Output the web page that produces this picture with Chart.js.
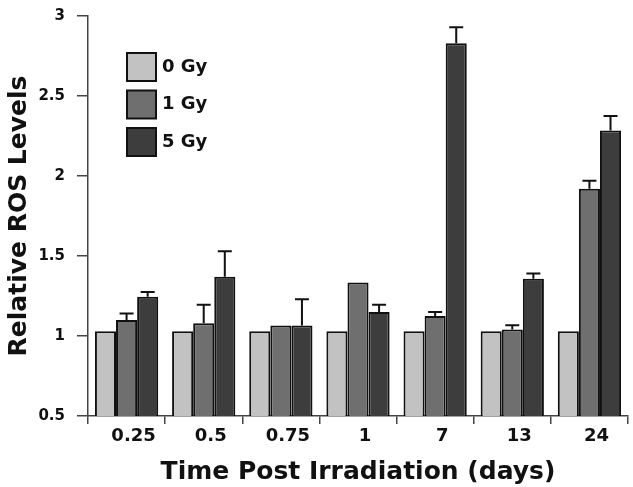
<!DOCTYPE html>
<html>
<head>
<meta charset="utf-8">
<script src="https://cdn.jsdelivr.net/npm/chart.js@4"></script>
<style>
  body { margin: 0; background: #fff; }
  #wrap { width: 633px; height: 487px; }
</style>
</head>
<body>
<div id="wrap"><canvas id="c"></canvas></div>
<script>
const labels = ['0.25', '0.5', '0.75', '1', '7', '13', '24'];
const gy0 = [1.03, 1.03, 1.03, 1.03, 1.03, 1.03, 1.03];
const gy1 = [1.10, 1.08, 1.065, 1.335, 1.125, 1.04, 1.92];
const gy5 = [1.245, 1.37, 1.065, 1.15, 2.83, 1.358, 2.285];
const err0 = [0, 0, 0, 0, 0, 0, 0];
const err1 = [0.04, 0.115, 0, 0, 0.025, 0.027, 0.05];
const err5 = [0.03, 0.16, 0.165, 0.045, 0.10, 0.032, 0.09];

const FONT = '"DejaVu Sans", Arial, sans-serif';

// error bars above each bar, drawn from the bar's own scale
const errorBars = {
  id: 'errorBars',
  afterDatasetsDraw(chart) {
    const ctx = chart.ctx;
    const yScale = chart.scales.y;
    chart.data.datasets.forEach((ds, i) => {
      const meta = chart.getDatasetMeta(i);
      meta.data.forEach((bar, j) => {
        const e = ds.errors[j];
        if (!e) return;
        const yTop = yScale.getPixelForValue(ds.data[j] + e);
        ctx.save();
        ctx.strokeStyle = '#111';
        ctx.lineWidth = 2;
        ctx.beginPath();
        ctx.moveTo(bar.x, bar.y);
        ctx.lineTo(bar.x, yTop);
        ctx.moveTo(bar.x - 7, yTop);
        ctx.lineTo(bar.x + 7, yTop);
        ctx.stroke();
        ctx.restore();
      });
    });
  }
};

// legend box inside the plot, top-left
const innerLegend = {
  id: 'innerLegend',
  afterDraw(chart) {
    const ctx = chart.ctx;
    const x0 = chart.chartArea.left + 39;
    let y0 = 53;
    ctx.save();
    chart.data.datasets.forEach((ds) => {
      ctx.fillStyle = ds.backgroundColor;
      ctx.fillRect(x0, y0, 29, 28);
      ctx.strokeStyle = '#111';
      ctx.lineWidth = 2;
      ctx.strokeRect(x0, y0, 29, 28);
      ctx.fillStyle = '#111';
      ctx.font = 'bold 18px ' + FONT;
      ctx.textBaseline = 'middle';
      ctx.fillText(ds.label, x0 + 35, y0 + 14);
      y0 += 37.5;
    });
    ctx.restore();
  }
};

new Chart(document.getElementById('c'), {
  type: 'bar',
  data: {
    labels: labels,
    datasets: [
      { label: '0 Gy', data: gy0, errors: err0, backgroundColor: '#c2c2c2' },
      { label: '1 Gy', data: gy1, errors: err1, backgroundColor: '#6f6f6f' },
      { label: '5 Gy', data: gy5, errors: err5, backgroundColor: '#3d3d3d' },
    ].map(d => Object.assign(d, {
      borderColor: '#111',
      borderWidth: 2,
      barPercentage: 1,
      categoryPercentage: 0.82,
    })),
  },
  options: {
    responsive: true,
    maintainAspectRatio: false,
    animation: false,
    layout: { padding: { top: 16, right: 5, left: 0, bottom: 0 } },
    plugins: {
      legend: { display: false },
      tooltip: { enabled: false },
    },
    scales: {
      x: {
        grid: { offset: true, drawOnChartArea: false, tickLength: 8, color: '#444', lineWidth: 1.5 },
        border: { color: '#444', width: 1.5 },
        ticks: { color: '#111', font: { family: FONT, size: 18, weight: 'bold' }, padding: 2, labelOffset: 7 },
        title: {
          display: true,
          text: 'Time Post Irradiation (days)',
          color: '#111',
          font: { family: FONT, size: 25, weight: 'bold' },
          padding: { top: 2, bottom: 0 },
        },
        afterFit: (s) => { s.height = 71; },
      },
      y: {
        min: 0.5,
        max: 3,
        grid: { drawOnChartArea: false, tickLength: 11, color: '#444', lineWidth: 1.5 },
        border: { color: '#444', width: 1.5 },
        ticks: {
          stepSize: 0.5,
          color: '#111',
          font: { family: FONT, size: 15, weight: 'bold' },
          padding: 12,
          callback: (v) => String(v),
        },
        title: {
          display: true,
          text: 'Relative ROS Levels',
          color: '#111',
          font: { family: FONT, size: 25, weight: 'bold' },
          padding: { top: 4, bottom: 0 },
        },
        afterFit: (s) => { s.width = 88; s.paddingTop = 0; },
      },
    },
  },
  plugins: [errorBars, innerLegend],
});
</script>
</body>
</html>
